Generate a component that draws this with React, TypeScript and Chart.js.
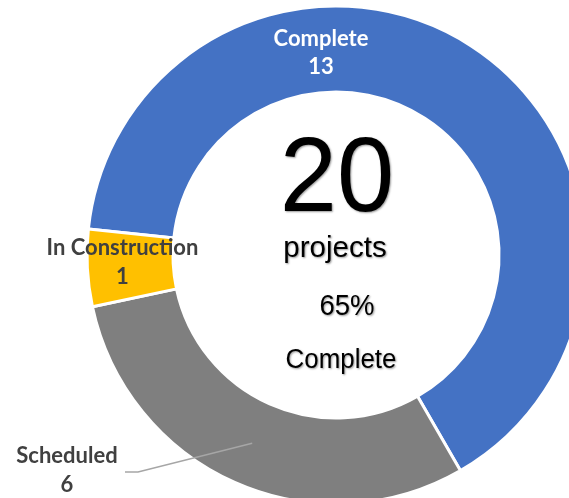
import React, { useEffect, useRef } from "react";
import { Chart, registerables } from "chart.js";

Chart.register(...registerables);

// ---- data ----
const categories = ["Complete", "Scheduled", "In Construction"];
const values = [13, 6, 1];
const colors = ["#4472C4", "#7F7F7F", "#FFC000"];
const labelColors = ["#FFFFFF", "#404040", "#404040"];
const centerWord = "projects";
const centerStatus = "Complete";

// ---- layout ----
const W = 569;
const H = 498;
const CX = 336;
const CY = 251;
const OUTER = 249;
const INNER = 166;
// label centres relative to the doughnut centre (first line / second line)
const labelOffsets = [
  { dx: -15, dy1: -216.5, dy2: -188.5 },
  { dx: -269, dy1: 201, dy2: 230 },
  { dx: -213.5, dy1: -7.5, dy2: 21.5 },
];

const total = values.reduce((a, b) => a + b, 0);
const pct = Math.round((values[0] / total) * 100);

const textPlugin = {
  id: "customText",
  afterDraw(chart: any) {
    const ctx = chart.ctx as CanvasRenderingContext2D;
    const meta = chart.getDatasetMeta(0);
    const arc0 = meta.data[0];
    const cx = arc0.x;
    const cy = arc0.y;

    // leader line for Scheduled
    const sched = meta.data[1];
    const tp = sched.tooltipPosition();
    const lo = labelOffsets[1];
    ctx.save();
    ctx.strokeStyle = "#A6A6A6";
    ctx.lineWidth = 1.5;
    ctx.beginPath();
    ctx.moveTo(cx + lo.dx + 58, cy + 217);
    ctx.lineTo(cx + lo.dx + 71, cy + 217);
    ctx.lineTo(tp.x, tp.y);
    ctx.stroke();
    ctx.restore();

    // data labels
    ctx.save();
    ctx.font = "bold 22px Lato";
    ctx.textAlign = "center";
    ctx.textBaseline = "middle";
    categories.forEach((c, i) => {
      const o = labelOffsets[i];
      ctx.fillStyle = labelColors[i];
      ctx.fillText(c, cx + o.dx, cy + o.dy1);
      ctx.fillText(String(values[i]), cx + o.dx, cy + o.dy2);
    });
    ctx.restore();

    // centre text
    const drawCondensed = (t: string, x: number, y: number, size: number, sx: number) => {
      ctx.save();
      ctx.translate(x, y);
      ctx.scale(sx, 1);
      ctx.font = `${size}px "Liberation Sans", Arial, sans-serif`;
      ctx.textAlign = "center";
      ctx.textBaseline = "alphabetic";
      ctx.fillStyle = "#000000";
      ctx.shadowColor = "rgba(0,0,0,0.4)";
      ctx.shadowBlur = 2;
      ctx.shadowOffsetX = 1;
      ctx.shadowOffsetY = 1;
      ctx.fillText(t, 0, 0);
      ctx.restore();
    };
    drawCondensed(String(total), cx + 1, cy - 44, 106, 0.97);
    drawCondensed(centerWord, cx - 1, cy + 2, 29, 1.02);
    drawCondensed(`${pct}%`, cx + 11, cy + 60, 29, 0.95);
    drawCondensed(centerStatus, cx + 5, cy + 113, 27, 0.96);
  },
};

export default function App() {
  const ref = useRef<HTMLCanvasElement>(null);
  useEffect(() => {
    if (!ref.current) return;
    const pad = 10;
    const chart = new Chart(ref.current, {
      type: "doughnut",
      data: {
        labels: categories,
        datasets: [
          {
            data: values,
            backgroundColor: colors,
            borderColor: "#FFFFFF",
            borderWidth: 3,
          },
        ],
      },
      options: {
        responsive: false,
        animation: false,
        rotation: 276,
        radius: OUTER,
        cutout: INNER,
        layout: {
          padding: {
            left: CX - OUTER - pad,
            top: CY - OUTER - pad,
            right: 0,
            bottom: 0,
          },
        },
        plugins: {
          legend: { display: false },
          tooltip: { enabled: false },
        },
      },
      plugins: [textPlugin],
    });
    return () => chart.destroy();
  }, []);

  const pad = 10;
  const cw = (OUTER + pad) * 2 + (CX - OUTER - pad);
  const ch = (OUTER + pad) * 2 + (CY - OUTER - pad);
  return (
    <div
      style={{
        position: "fixed",
        left: 0,
        top: 0,
        width: W,
        height: H,
        overflow: "hidden",
        background: "#fff",
      }}
    >
      <canvas
        ref={ref}
        width={cw}
        height={ch}
        style={{ position: "absolute", left: 0, top: 0, width: cw, height: ch }}
      />
    </div>
  );
}
